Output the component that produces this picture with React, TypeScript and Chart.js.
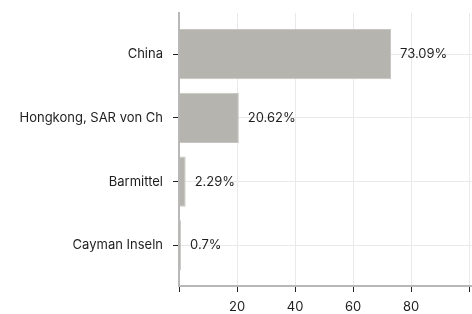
import React, { useEffect, useRef } from "react";
import { Chart, registerables } from "chart.js";

Chart.register(...registerables);

const categories = ["China", "Hongkong, SAR von Ch", "Barmittel", "Cayman Inseln"];
const shares = [73.09, 20.62, 2.29, 0.7];
const valueLabels = ["73.09%", "20.62%", "2.29%", "0.7%"];
const xTickValues = [0, 20, 40, 60, 80, 100];
const xTickLabels = ["", "20", "40", "60", "80", ""];

const FONT = "Inter, 'Noto Sans', sans-serif";

const valueLabelPlugin = {
  id: "valueLabels",
  afterDatasetsDraw(chart: any) {
    const ctx = chart.ctx;
    const meta = chart.getDatasetMeta(0);
    ctx.save();
    ctx.font = `13px ${FONT}`;
    ctx.fillStyle = "#1e1e1e";
    ctx.textAlign = "left";
    ctx.textBaseline = "middle";
    meta.data.forEach((el: any, i: number) => {
      ctx.fillText(valueLabels[i], el.x + 9, el.y);
    });
    ctx.restore();
  },
};

export default function App() {
  const ref = useRef<HTMLCanvasElement | null>(null);

  useEffect(() => {
    document.body.style.margin = "0";
    if (!ref.current) return;
    const chart = new Chart(ref.current, {
      type: "bar",
      data: {
        datasets: [
          {
            data: shares.map((v, i) => ({ x: v, y: i })),
            backgroundColor: "#b5b4af",
            borderColor: "#c6c5c1",
            borderWidth: 1,
            barPercentage: 0.785,
            categoryPercentage: 1,
          },
        ],
      },
      options: {
        indexAxis: "y",
        animation: false,
        responsive: false,
        layout: { padding: { top: 13, right: 0, left: 0, bottom: 0 } },
        plugins: {
          legend: { display: false },
          tooltip: { enabled: false },
        },
        scales: {
          x: {
            type: "linear",
            min: 0,
            max: 101,
            offset: false,
            afterBuildTicks: (axis: any) => {
              axis.ticks = xTickValues.map((v) => ({ value: v }));
            },
            afterFit: (s: any) => {
              s.height = 28;
              s.paddingLeft = 0;
              s.paddingRight = 0;
            },
            grid: {
              offset: false,
              color: "#e9e9e9",
              tickColor: "#222222",
              tickLength: 6,
              lineWidth: 1,
            },
            border: { color: "#b8b8b8", width: 2 },
            ticks: {
              padding: 7,
              color: "#1e1e1e",
              font: { family: FONT, size: 13 },
              maxRotation: 0,
              callback: (_v: any, i: number) => xTickLabels[i],
            },
          },
          y: {
            type: "linear",
            reverse: true,
            offset: false,
            bounds: "data",
            min: -0.645,
            max: 3.637,
            afterBuildTicks: (axis: any) => {
              axis.ticks = categories.map((_, i) => ({ value: i }));
            },
            afterFit: (s: any) => {
              s.width = 179;
              s.paddingTop = 0;
              s.paddingBottom = 0;
            },
            grid: {
              offset: false,
              color: "#e9e9e9",
              tickColor: "#222222",
              tickLength: 6,
              lineWidth: 1,
            },
            border: { color: "#b8b8b8", width: 2 },
            ticks: {
              padding: 10,
              color: "#1e1e1e",
              font: { family: FONT, size: 13 },
              callback: (_v: any, i: number) => categories[i],
            },
          },
        },
      },
      plugins: [valueLabelPlugin],
    } as any);
    return () => chart.destroy();
  }, []);

  return (
    <div style={{ width: 472, height: 314 }}>
      <canvas ref={ref} width={472} height={314} style={{ display: "block" }} />
    </div>
  );
}
